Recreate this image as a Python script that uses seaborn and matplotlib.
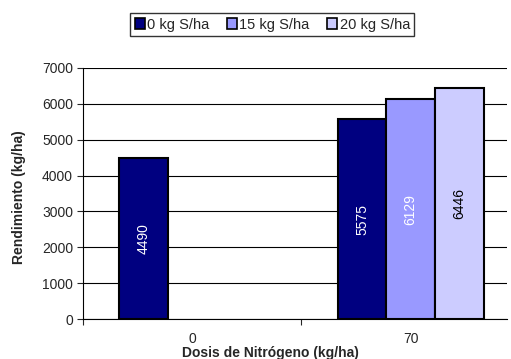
import numpy as np
import pandas as pd
import seaborn as sns
import matplotlib.pyplot as plt
from matplotlib.patches import Patch

# ===================== DATA =====================
nitrogen = ["0", "70"]
sulfur = ["0 kg S/ha", "15 kg S/ha", "20 kg S/ha"]
yield_0 = [4490, np.nan, np.nan]
yield_70 = [5575, 6129, 6446]
colors = ["#000080", "#9999FF", "#CCCCFF"]
text_colors = ["white", "white", "black"]

rows = []
for n, vals in zip(nitrogen, [yield_0, yield_70]):
    for s, v in zip(sulfur, vals):
        rows.append({"N": n, "S": s, "Rend": v})
df = pd.DataFrame(rows)

# ===================== PLOT =====================
sns.set_style("white")
plt.rcParams["font.family"] = ["Liberation Sans", "DejaVu Sans"]
fs = 10

fig = plt.figure(figsize=(5.11, 3.59), dpi=100)
ax = fig.add_axes([0.162, 0.111, 0.83, 0.700])

sns.barplot(
    data=df, x="N", y="Rend", hue="S", order=nitrogen, hue_order=sulfur,
    palette=colors, width=0.667, gap=0, edgecolor="black", linewidth=1.5,
    saturation=1, legend=False, ax=ax, err_kws={"linewidth": 0}
)

# data labels inside bars
for container, tc in zip(ax.containers, text_colors):
    for bar in container:
        h = bar.get_height()
        if np.isnan(h) or h == 0:
            continue
        ax.text(bar.get_x() + bar.get_width() / 2, h / 2, f"{int(h)}",
                rotation=90, ha="center", va="center", color=tc, fontsize=fs)

ax.set_ylim(0, 7000)
ax.set_yticks(range(0, 7001, 1000))
ax.set_xlim(-0.5, 1.44)
ax.yaxis.grid(True, color="black", linewidth=0.8)
ax.set_axisbelow(True)
for side in ["top", "right"]:
    ax.spines[side].set_visible(False)
for side in ["left", "bottom"]:
    ax.spines[side].set_color("black")
    ax.spines[side].set_linewidth(0.8)

ax.tick_params(axis="y", left=True, length=4, width=0.8, labelsize=fs, pad=3)
ax.tick_params(axis="x", which="major", bottom=False, length=0,
               labelsize=fs, pad=9.5)
ax.set_xticks([-0.5, 0.5], minor=True)
ax.tick_params(axis="x", which="minor", bottom=True, length=4, width=0.8)

ax.set_ylabel("Rendimiento (kg/ha)", fontsize=fs, fontweight="bold")
ax.set_xlabel("Dosis de Nitrógeno (kg/ha)", fontsize=fs, fontweight="bold",
              va="center")
ax.xaxis.set_label_coords(0.443, -0.134)
ax.yaxis.set_label_coords(-0.135, 0.485)

handles = [Patch(facecolor=c, edgecolor="black", linewidth=1.2) for c in colors]
fig.legend(handles, sulfur, loc="upper center", bbox_to_anchor=(0.533, 0.963),
           ncol=3, frameon=True, fancybox=False, edgecolor="black",
           fontsize=10.5, handlelength=0.7, handleheight=0.7,
           handletextpad=0.15, columnspacing=1.2, borderpad=0.3,
           borderaxespad=0)

fig.savefig("out.png", dpi=100)
